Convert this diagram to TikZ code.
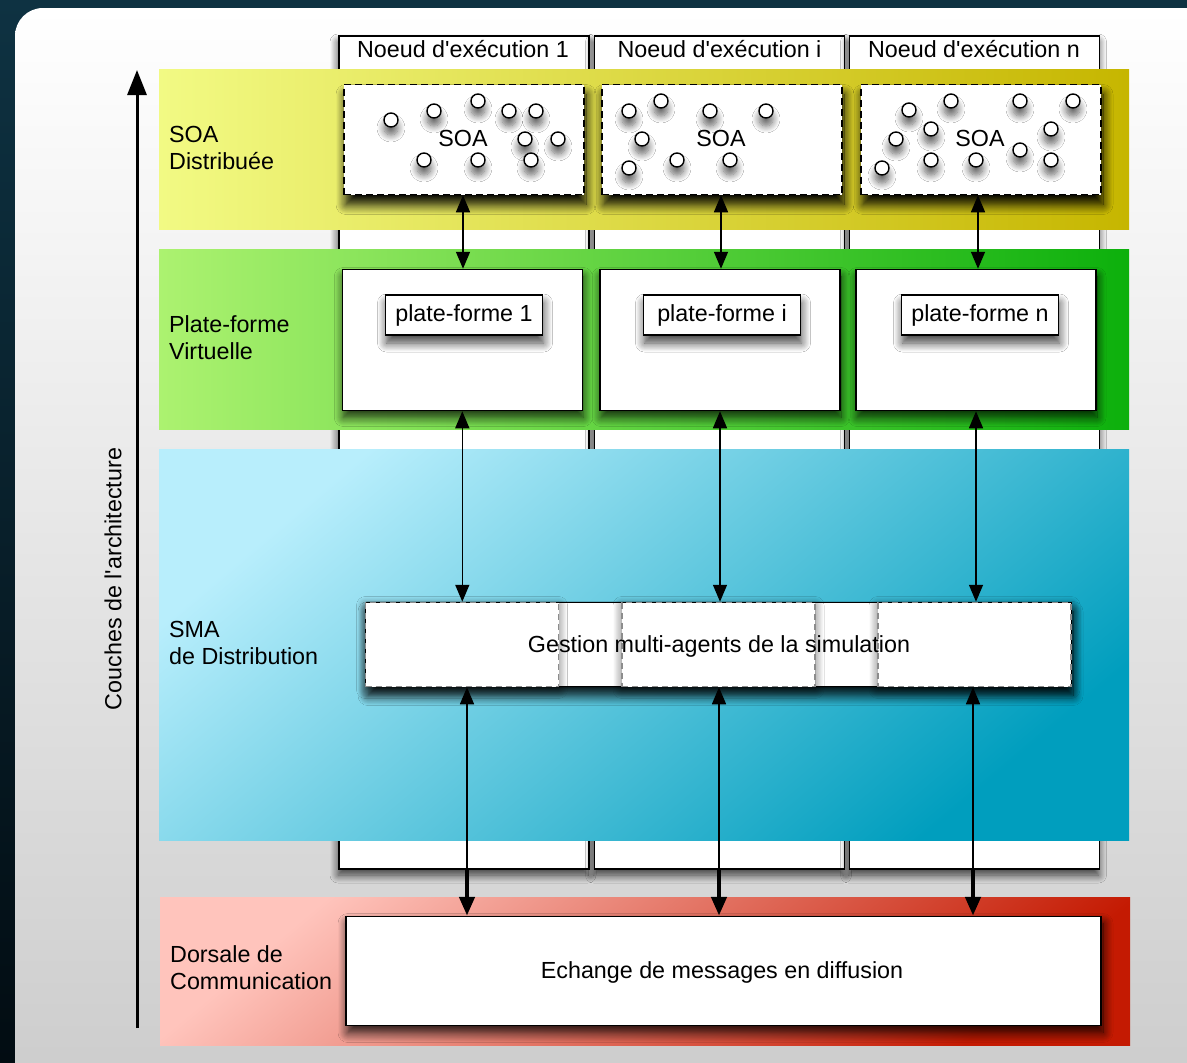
\documentclass[tikz,border=0pt]{standalone}
\usepackage{fontspec}
\setmainfont{Liberation Sans}
\usetikzlibrary{arrows.meta,shadows.blur}
\definecolor{bgtop}{RGB}{14,50,66}
\definecolor{bgbot}{RGB}{2,12,18}
\definecolor{panbot}{RGB}{204,204,204}
\definecolor{yelL}{RGB}{242,250,132}
\definecolor{yelR}{RGB}{198,182,0}
\definecolor{grnL}{RGB}{172,242,112}
\definecolor{grnR}{RGB}{12,176,12}
\definecolor{bluL}{RGB}{184,238,252}
\definecolor{bluR}{RGB}{0,158,190}
\definecolor{redL}{RGB}{255,196,188}
\definecolor{redR}{RGB}{196,26,2}
\definecolor{secgray}{RGB}{140,140,140}
\begin{document}
\begin{tikzpicture}[x=1pt,y=-1pt,
  txt/.style={font=\fontsize{23.3}{27}\selectfont, inner sep=0pt},
  box/.style={rectangle, draw=black, line width=1.5pt, fill=white, inner sep=0pt},
  colbox/.style={box, minimum width=250pt, minimum height=833pt,
     blur shadow={shadow xshift=-1pt, shadow yshift=-6pt, shadow blur radius=8pt, shadow blur steps=12, shadow opacity=75}},
  soabox/.style={box, dash pattern=on 7pt off 4pt, minimum width=240pt, minimum height=110pt,
     blur shadow={shadow xshift=2pt, shadow yshift=-10pt, shadow blur radius=10pt, shadow blur steps=12, shadow opacity=100}},
  circ/.style={circle, draw=black, line width=1.4pt, fill=white, minimum size=14pt, inner sep=0pt,
     blur shadow={shadow xshift=0pt, shadow yshift=-8pt, shadow blur radius=7pt, shadow blur steps=10, shadow opacity=60}},
  platbox/.style={box, minimum width=240pt, minimum height=141pt,
     blur shadow={shadow xshift=1pt, shadow yshift=-7pt, shadow blur radius=9pt, shadow blur steps=12, shadow opacity=80}},
  lblbox/.style={box, txt, minimum width=157pt, minimum height=40pt,
     blur shadow={shadow xshift=1pt, shadow yshift=-8pt, shadow blur radius=9pt, shadow blur steps=12, shadow opacity=75}},
  gestbox/.style={box, minimum width=705pt, minimum height=84pt,
     blur shadow={shadow xshift=2pt, shadow yshift=-9pt, shadow blur radius=10pt, shadow blur steps=12, shadow opacity=95}},
  secbox/.style={rectangle, draw=secgray, line width=1.4pt, dash pattern=on 6pt off 4pt, fill=white,
     minimum width=193pt, minimum height=84pt, inner sep=0pt,
     blur shadow={shadow xshift=0pt, shadow yshift=-3pt, shadow blur radius=9pt, shadow blur steps=12, shadow opacity=60}},
  echbox/.style={box, minimum width=755pt, minimum height=109pt,
     blur shadow={shadow xshift=2pt, shadow yshift=-7pt, shadow blur radius=10pt, shadow blur steps=12, shadow opacity=90}},
  link/.style={line width=1.5pt, {Triangle[length=17pt,width=14pt]}-{Triangle[length=17pt,width=14pt]}},
  uplink/.style={line width=1.5pt, -{Triangle[length=17pt,width=14pt]}},
  thicklink/.style={line width=4.5pt, -{Triangle[length=19pt,width=15pt]}},
]
\useasboundingbox (0,0) rectangle (1187,1063);
% background
\shade[top color=bgtop, bottom color=bgbot] (0,0) rectangle (1187,1063);
\shade[top color=white, bottom color=panbot, rounded corners=28pt] (15,8) rectangle (1230,1100);

% axis
\coordinate (axb) at (137,1028);
\coordinate (axt) at (137,70);
\draw[line width=3pt, -{Triangle[length=25pt,width=19pt]}] (axb) -- (axt);
\node[txt, rotate=90] (axlbl) at (113,579) {Couches de l\textquotesingle architecture};

% execution node columns
\node[colbox] (col1) at (464,452.5) {};
\node[colbox] (col2) at (719.5,452.5) {};
\node[colbox] (col3) at (974.5,452.5) {};
\node[txt, anchor=base] (h1) at (463,57) {Noeud d\textquotesingle exécution 1};
\node[txt, anchor=base] (h2) at (719.5,57) {Noeud d\textquotesingle exécution i};
\node[txt, anchor=base] (h3) at (974,57) {Noeud d\textquotesingle exécution n};

% layer bands
\shade[left color=yelL, right color=yelR] (159,69) rectangle (1129,229);
\shade[left color=grnL, right color=grnR] (159,249) rectangle (1129,429);
\shade[top color=bluL, bottom color=bluR, shading angle=40] (159,449) rectangle (1129,840);
\shade[top color=redL, bottom color=redR, shading angle=40] (160,897) rectangle (1130,1045);

% layer labels
\node[txt, anchor=west, align=left] (l1) at (169,148) {SOA\\Distribuée};
\node[txt, anchor=west, align=left] (l2) at (169,338) {Plate-forme\\Virtuelle};
\node[txt, anchor=west, align=left] (l3) at (169,643) {SMA\\de Distribution};
\node[txt, anchor=west, align=left] (l4) at (170,968) {Dorsale de\\Communication};

% SOA boxes
\node[soabox] (soa1) at (464,139.5) {};
\node[soabox] (soa2) at (722,139.5) {};
\node[soabox] (soa3) at (981,139.5) {};
\foreach \p [count=\i] in {(391,120),(434,111),(478,101),(509,111),(536,111),(525,139),(558,139),(424,160),(478,160),(531,160)}
  \node[circ] (a\i) at \p {};
\foreach \p [count=\i] in {(629,111),(661,101),(710,111),(766,111),(642,139),(629,168),(677,160),(730,160)}
  \node[circ] (b\i) at \p {};
\foreach \p [count=\i] in {(909,110),(951,101),(1020,101),(1073,101),(931,129),(896,139),(1051,129),(1020,150),(882,168),(931,160),(976,160),(1051,160)}
  \node[circ] (c\i) at \p {};
\node[txt, anchor=base] (st1) at (463,146) {SOA};
\node[txt, anchor=base] (st2) at (721,146) {SOA};
\node[txt, anchor=base] (st3) at (980,146) {SOA};

% virtual platforms
\node[platbox] (plat1) at (462.3,340) {};
\node[platbox] (plat2) at (720,340) {};
\node[platbox] (plat3) at (976,340) {};
\node[lblbox] (pl1) at (464,315) {plate-forme 1};
\node[lblbox] (pl2) at (722,315) {plate-forme i};
\node[lblbox] (pl3) at (980,315) {plate-forme n};

% multi-agent management
\node[gestbox] (gest) at (718.5,644.5) {};
\node[secbox] (g1) at (462,644.5) {};
\node[secbox] (g2) at (718.5,644.5) {};
\node[secbox] (g3) at (974.5,644.5) {};
\node[txt, anchor=base] (gtxt) at (719,652) {Gestion multi-agents de la simulation};

% communication backbone
\node[echbox] (ech) at (723.5,971) {};
\node[txt, anchor=base] (etxt) at (722,978) {Echange de messages en diffusion};

% connectors
\draw[link] (soa1.south -| 463,0) -- (463,0 |- plat1.north);
\draw[link] (soa2.south -| 721,0) -- (721,0 |- plat2.north);
\draw[link] (soa3.south -| 978,0) -- (978,0 |- plat3.north);
\draw[link] (plat1.south) -- (plat1.south |- gest.north);
\draw[link] (plat2.south) -- (plat2.south |- gest.north);
\draw[link] (plat3.south) -- (plat3.south |- gest.north);
\coordinate (lo1) at (467,870);
\coordinate (lo2) at (719,870);
\coordinate (lo3) at (973,870);
\draw[uplink] (lo1) -- (lo1 |- gest.south);
\draw[uplink] (lo2) -- (lo2 |- gest.south);
\draw[uplink] (lo3) -- (lo3 |- gest.south);
\draw[thicklink] (lo1) -- (lo1 |- ech.north);
\draw[thicklink] (lo2) -- (lo2 |- ech.north);
\draw[thicklink] (lo3) -- (lo3 |- ech.north);
\end{tikzpicture}
\end{document}
